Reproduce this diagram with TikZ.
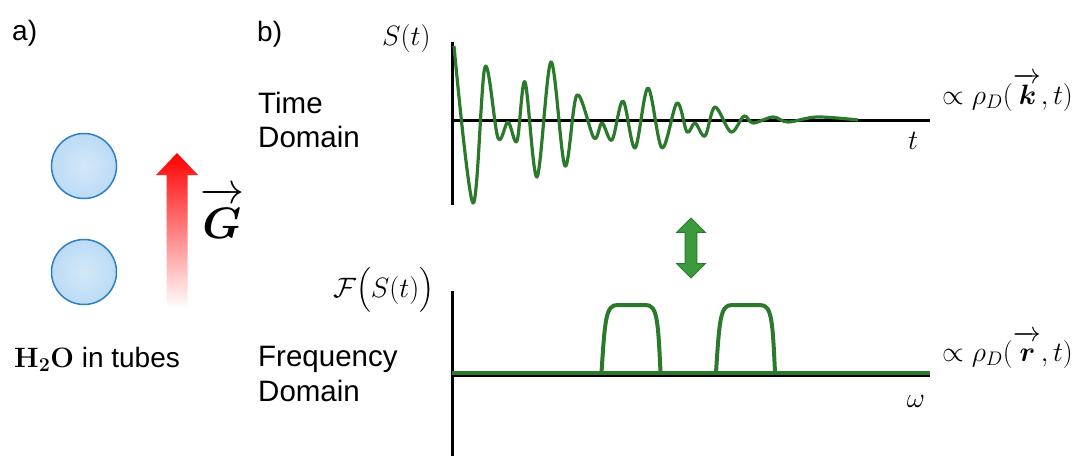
\RequirePackage{fix-cm}
\documentclass[tikz,border=0pt]{standalone}
\usepackage[no-math]{fontspec}
\setmainfont{Liberation Sans}
\usepackage{amsmath}
\usepackage{bm}
\usetikzlibrary{shapes.arrows}
\definecolor{SigGreen}{HTML}{2B7A2B}
\definecolor{ArrowGreen}{HTML}{3C9A3C}
\definecolor{TubeEdge}{HTML}{2F7FC8}
\definecolor{TubeFill}{HTML}{BCDBF5}
\definecolor{TubeCore}{HTML}{D3E8FA}

\begin{document}
\begin{tikzpicture}[x=1pt,y=-1pt,
    lbl/.style={font=\fontsize{28}{34.5}\selectfont,inner sep=0pt},
    dom/.style={lbl,font=\fontsize{29.5}{34.5}\selectfont,align=left,anchor=west},
    tube/.style={circle,minimum size=65pt,draw=TubeEdge,line width=1.5pt,
                 inner color=TubeCore,outer color=TubeFill},
    axisline/.style={line width=3pt},
    sig/.style={SigGreen,line width=3.2pt,line join=round},
    fliparrow/.style={double arrow,rotate=90,fill=ArrowGreen,draw=SigGreen,line width=1pt,
                      minimum height=60pt,minimum width=28pt,inner xsep=0pt,inner ysep=5.3pt,
                      double arrow head extend=8.6pt}]
  \useasboundingbox (0,0) rectangle (1077,456);
  \node[lbl,anchor=base west] (lbla) at (12,40) {a)};
  \node[lbl,anchor=base west] (lblb) at (257,41.7) {b)};
  \node[tube] (tubetop) at (84,166) {};
  \node[tube] (tubebot) at (84,272) {};
  \shade[top color=red,middle color=red!80,bottom color=white]
    (166.5,308) -- (166.5,175) -- (156,175) -- (177,153) -- (198,175) -- (187.5,175) -- (187.5,308) -- cycle;
  \node[lbl,font=\fontsize{44}{50}\selectfont] (gvec) at (222,213) {$\overrightarrow{\bm G\rule{0pt}{0.8em}}$};
  \node[lbl,anchor=base west] (water) at (14,367) {$\mathbf{H_2O}$ in tubes};
  \node[dom] (timedom) at (258,120) {Time\\Domain};
  \node[dom] (freqdom) at (258,373.8) {Frequency\\Domain};
  \node[lbl,anchor=base west] (sig) at (382,45) {$S(t)$};
  \node[lbl,anchor=base west] (ft) at (333,297) {$\mathcal{F}\bigl(S(t)\bigr)$};
  \node[lbl] (tlbl) at (913,141) {$t$};
  \node[lbl] (wlbl) at (916,401) {$\omega$};
  \node[lbl,anchor=west] (kspace) at (942,92) {$\propto\rho_D(\overrightarrow{\mkern2mu\bm k\rule{0pt}{0.76em}\mkern1mu},t)$};
  \node[lbl,anchor=west] (rspace) at (942,350) {$\propto\rho_D(\overrightarrow{\mkern2mu\bm r\rule{0pt}{0.7em}\mkern1mu},t)$};
  \draw[axisline] (452.5,42) -- (452.5,205);
  \draw[axisline] (451,120.7) -- (930,120.7);
  \draw[sig] plot[smooth,tension=0.55] coordinates {
    (454,46) (473,203) (485,67) (498,138) (508,122) (517,141) (525,82) (537,177)
    (551,62) (565,166) (577,95) (594,138) (602,123) (612,140) (623,101) (635,148)
    (648,88) (662,148) (677,103) (687,132) (695,123) (705,136) (715,107) (731,132)
    (744,116) (753,123) (773,117) (788,122) (817,117) (858,120)};
  \node[fliparrow] (swap) at (691,248) {};
  \draw[axisline] (452.5,291) -- (452.5,456);
  \draw[axisline] (451,375) -- (930,375);
  \draw[sig,line width=4pt] (452,372.5) -- (930,372.5);
  \foreach \x in {601.5,716}
    \draw[sig,line width=4pt] (\x,372.5) .. controls (\x+3.5,318) and (\x+4.5,305) .. (\x+16,305)
      -- (\x+44,305) .. controls (\x+55.5,305) and (\x+56.5,318) .. (\x+59,372.5);
\end{tikzpicture}
\end{document}
